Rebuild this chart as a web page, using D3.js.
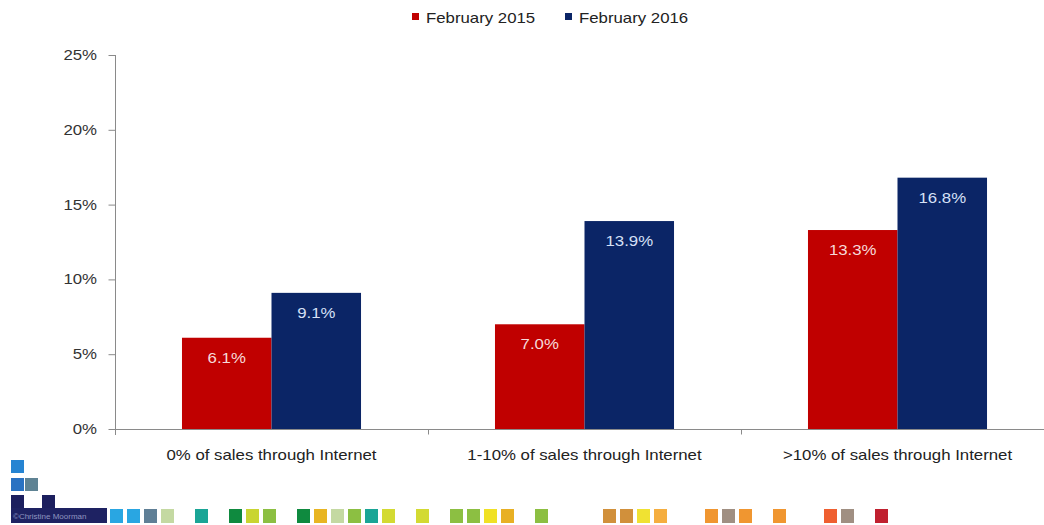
<!DOCTYPE html>
<html>
<head>
<meta charset="utf-8">
<script src="https://cdn.jsdelivr.net/npm/d3@7"></script>
<style>
  html, body { margin: 0; padding: 0; background: #fff; }
  svg { display: block; font-family: "Liberation Sans", Arial, sans-serif; }
</style>
</head>
<body>
<svg id="chart" width="1044" height="525"></svg>
<script>
// ---- data ----
const categories = ["0% of sales through Internet", "1-10% of sales through Internet", ">10% of sales through Internet"];
const seriesNames = ["February 2015", "February 2016"];
const feb2015 = [6.1, 7.0, 13.3];
const feb2016 = [9.1, 13.9, 16.8];
const yTicks = [0, 5, 10, 15, 20, 25];
// decorative footer strip (slot index, colour)
const stripSlots = [0,1,2,3,5,7,8,9,11,12,13,14,15,16,18,20,21,22,23,25,29,30,31,32,35,36,37,39,42,43,45];
const stripColors = ["#29a6e2","#29a6e2","#5f7f96","#c4d9a2","#1aa596","#0f8a3f","#c9d531","#8cbf42","#0f8a3f","#e8b522","#c4d9a2","#8cbf42","#1aa596","#d3da32","#d3da32","#8cbf42","#8cbf42","#f0e125","#e8b024","#8cbf42","#d1903b","#d1903b","#f0e232","#f5ae3f","#f09630","#a08f82","#f09630","#f09630","#ef5f30","#a08f82","#c0202f"];

const colors = ["#c00000", "#0b2566"];
const labelColors = ["#f6dada", "#d6e0f6"];
const SX = 1.2; // horizontal stretch of the original's text

const svg = d3.select("#chart");

const y = d3.scaleLinear().domain([0, 25]).range([429, 55]);
const x = d3.scaleBand().domain(categories).range([115, 1054]).paddingInner(0.428).paddingOuter(0.214);
const x1 = d3.scaleBand().domain(seriesNames).range([0, x.bandwidth()]);

// y axis
const yAxis = d3.axisLeft(y).tickValues(yTicks).tickFormat(d => d + "%").tickSize(7).tickPadding(0);
const gy = svg.append("g").attr("transform", "translate(115.5,0)").call(yAxis);
gy.select(".domain").attr("stroke", "#8a8a8a").attr("d", "M0,55V435");
gy.selectAll(".tick line").attr("stroke", "#8a8a8a");
gy.selectAll(".tick text")
  .attr("x", -18.5 / SX)
  .attr("transform", `scale(${SX},1)`)
  .attr("fill", "#333").style("font-size", "14px");

// bars
const groups = svg.append("g").selectAll("g").data(categories).join("g")
  .attr("transform", d => `translate(${x(d)},0)`);
const vals = [feb2015, feb2016];
seriesNames.forEach((s, si) => {
  groups.append("rect")
    .attr("x", x1(s))
    .attr("width", x1.bandwidth())
    .attr("y", (d, i) => y(vals[si][i]))
    .attr("height", (d, i) => y(0) - y(vals[si][i]))
    .attr("fill", colors[si]);
  groups.append("text")
    .attr("transform", (d, i) => `translate(${x1(s) + x1.bandwidth() / 2},${y(vals[si][i]) + 25}) scale(${SX},1)`)
    .attr("text-anchor", "middle")
    .attr("fill", labelColors[si])
    .style("font-size", "14px")
    .text((d, i) => vals[si][i].toFixed(1) + "%");
});

// x axis
const xAxis = d3.axisBottom(x).tickSize(0).tickPadding(0);
const gx = svg.append("g").attr("transform", "translate(0,429.5)").call(xAxis);
gx.select(".domain").remove();
gx.selectAll(".tick text")
  .attr("y", 0).attr("dy", 0)
  .attr("transform", `translate(0,30) scale(${SX},1)`)
  .attr("fill", "#222").style("font-size", "14px");
gx.append("line").attr("x1", 115).attr("x2", 1044).attr("stroke", "#8a8a8a");
const boundaries = categories.slice(0, -1).map(c => x(c) + x.bandwidth() + x.step() * x.paddingInner() / 2);
gx.selectAll(".bnd").data(boundaries).join("line").attr("class", "bnd")
  .attr("x1", d => Math.round(d) + 0.5).attr("x2", d => Math.round(d) + 0.5)
  .attr("y1", 0).attr("y2", 5).attr("stroke", "#8a8a8a");

// legend
const legend = svg.append("g");
const legX = [412, 565];
seriesNames.forEach((s, i) => {
  legend.append("rect").attr("x", legX[i]).attr("y", 13).attr("width", 7).attr("height", 7).attr("fill", colors[i]);
  legend.append("text")
    .attr("transform", `translate(${legX[i] + 14},23) scale(${SX},1)`)
    .attr("fill", "#222").style("font-size", "14px").text(s);
});

// decorative logo + strip
const logo = svg.append("g");
const logoSquares = [[11, 460, "#2684d2"], [11, 478, "#2a72c2"], [25, 478, "#5f8394"], [11, 495, "#1c1f5e"], [42, 495, "#1c1f5e"]];
logo.selectAll("rect").data(logoSquares).join("rect")
  .attr("x", d => d[0]).attr("y", d => d[1]).attr("width", 13).attr("height", 13).attr("fill", d => d[2]);
logo.append("rect").attr("x", 11).attr("y", 508).attr("width", 96).attr("height", 15).attr("fill", "#1e2262");
logo.append("text").attr("x", 13).attr("y", 519).attr("fill", "#8f95c0").style("font-size", "8px").text("©Christine Moorman");
svg.append("g").selectAll("rect").data(stripSlots).join("rect")
  .attr("x", d => 110 + d * 17).attr("y", 509).attr("width", 13).attr("height", 14)
  .attr("fill", (d, i) => stripColors[i]);
</script>
</body>
</html>
